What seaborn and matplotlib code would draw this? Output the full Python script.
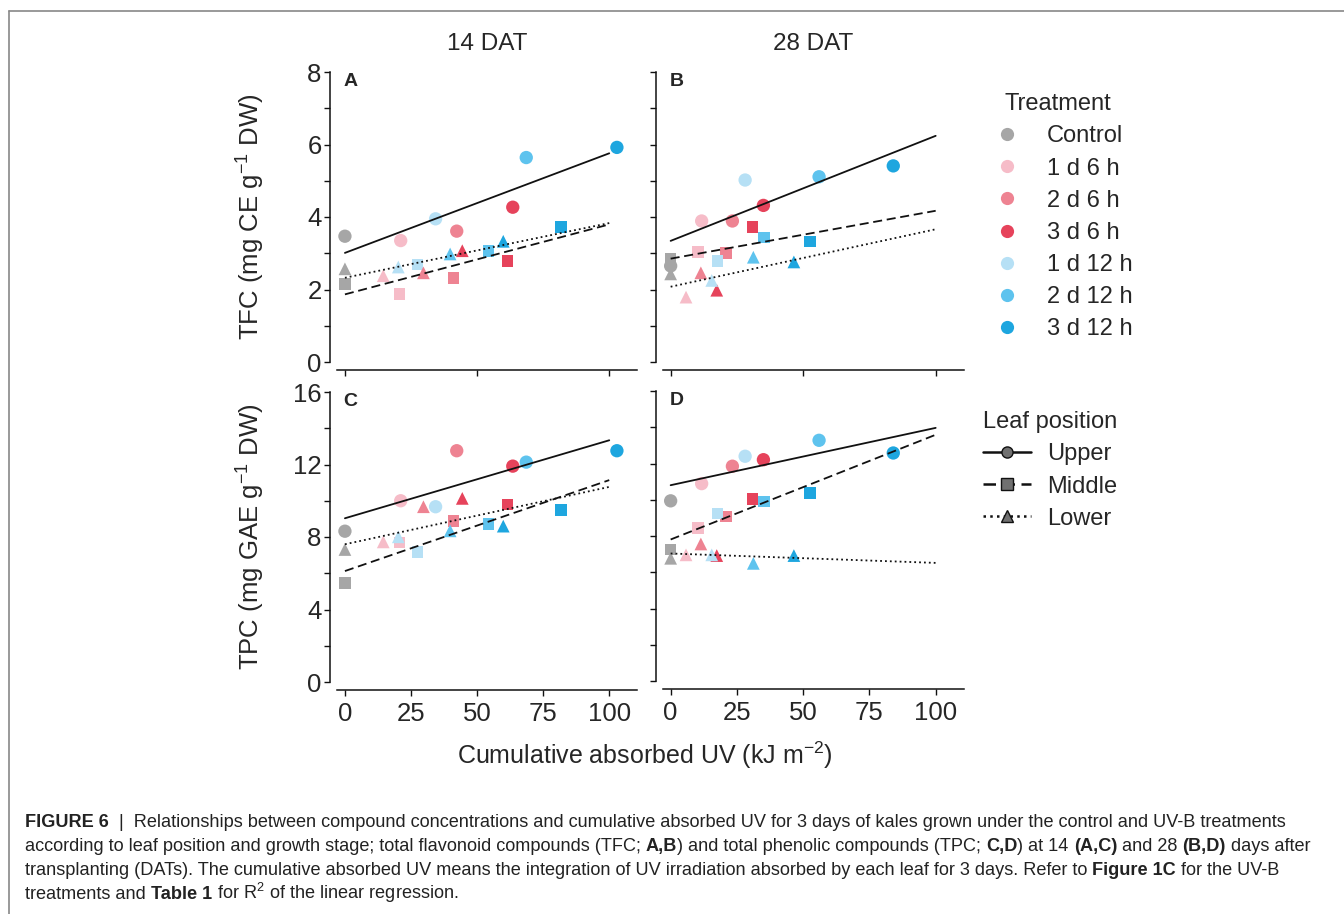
import numpy as np
import matplotlib
matplotlib.use('Agg')
import matplotlib.pyplot as plt
from matplotlib.lines import Line2D
from matplotlib.ticker import MultipleLocator
import seaborn as sns

# treatments in legend order
treatments = ['Control', '1 d 6 h', '2 d 6 h', '3 d 6 h', '1 d 12 h', '2 d 12 h', '3 d 12 h']
colors = ['#a6a6a6', '#f6bcc8', '#ee8392', '#e6435b', '#b6e0f5', '#5ec3ee', '#1ea6df']
positions = ['Upper', 'Middle', 'Lower']

# cumulative absorbed UV (kJ m-2), 14 DAT
uv14_upper = [0, 21.1, 42.3, 63.5, 34.3, 68.6, 102.9]
uv14_middle = [0, 20.6, 41.0, 61.5, 27.4, 54.4, 81.7]
uv14_lower = [0, 14.5, 29.7, 44.4, 20.2, 39.8, 59.9]
# 28 DAT
uv28_upper = [0, 11.7, 23.3, 35.0, 28.1, 56.0, 84.0]
uv28_middle = [0, 10.4, 20.8, 30.9, 17.6, 35.2, 52.6]
uv28_lower = [0, 5.8, 11.4, 17.4, 15.5, 31.2, 46.5]

# TFC (mg CE g-1 DW)
tfc14_upper = [3.47, 3.35, 3.61, 4.27, 3.95, 5.64, 5.92]
tfc14_middle = [2.15, 1.87, 2.32, 2.78, 2.69, 3.06, 3.72]
tfc14_lower = [2.57, 2.38, 2.46, 3.07, 2.62, 2.98, 3.33]
tfc28_upper = [2.65, 3.89, 3.89, 4.32, 5.02, 5.11, 5.41]
tfc28_middle = [2.85, 3.04, 3.01, 3.73, 2.78, 3.43, 3.33]
tfc28_lower = [2.43, 1.79, 2.46, 1.98, 2.25, 2.89, 2.76]

# TPC (mg GAE g-1 DW)
tpc14_upper = [8.32, 10.0, 12.76, 11.91, 9.67, 12.13, 12.76]
tpc14_middle = [5.47, 7.70, 8.89, 9.80, 7.18, 8.71, 9.48]
tpc14_lower = [7.31, 7.73, 9.67, 10.13, 8.01, 8.34, 8.60]
tpc28_upper = [9.94, 10.89, 11.85, 12.21, 12.40, 13.28, 12.58]
tpc28_middle = [7.27, 8.43, 9.08, 10.04, 9.23, 9.91, 10.37]
tpc28_lower = [6.77, 6.96, 7.56, 6.92, 6.96, 6.49, 6.92]

sns.set_style('ticks')
plt.rcParams['font.family'] = ['Liberation Sans', 'DejaVu Sans']
plt.rcParams['mathtext.fontset'] = 'custom'
plt.rcParams['mathtext.rm'] = 'Liberation Sans'
plt.rcParams['mathtext.it'] = 'Liberation Sans:italic'
plt.rcParams['mathtext.bf'] = 'Liberation Sans:bold'

W, H = 1344, 914
fig = plt.figure(figsize=(W / 100, H / 100), dpi=100)


def px_axes(left, top, right, bottom):
    return fig.add_axes([left / W, 1 - bottom / H, (right - left) / W, (bottom - top) / H])


axA = px_axes(337, 72, 637, 362)
axB = px_axes(662.7, 72, 963.5, 362)
axC = px_axes(337, 392, 637, 682)
axD = px_axes(662.7, 391, 963.5, 681)

marker_of = {'Upper': 'o', 'Middle': 's', 'Lower': '^'}
size_of = {'Upper': 92, 'Middle': 68, 'Lower': 84}
line_of = {'Upper': '-', 'Middle': (0, (5, 2.6)), 'Lower': (0, (1, 1.7))}

panels = [
    (axA, 'A', [uv14_upper, uv14_middle, uv14_lower], [tfc14_upper, tfc14_middle, tfc14_lower], 8),
    (axB, 'B', [uv28_upper, uv28_middle, uv28_lower], [tfc28_upper, tfc28_middle, tfc28_lower], 8),
    (axC, 'C', [uv14_upper, uv14_middle, uv14_lower], [tpc14_upper, tpc14_middle, tpc14_lower], 16),
    (axD, 'D', [uv28_upper, uv28_middle, uv28_lower], [tpc28_upper, tpc28_middle, tpc28_lower], 16),
]

for ax, letter, xs_list, ys_list, ymax in panels:
    for pos, xs, ys in zip(positions, xs_list, ys_list):
        sns.scatterplot(x=xs, y=ys, hue=treatments, hue_order=treatments, palette=colors,
                        marker=marker_of[pos], s=size_of[pos], linewidth=0, legend=False,
                        ax=ax, clip_on=False, zorder=2)
        # linear regression over 0-100
        slope, icpt = np.polyfit(xs, ys, 1)
        xfit = np.array([0, 100])
        ax.plot(xfit, icpt + slope * xfit, color='#111111', lw=1.3,
                linestyle=line_of[pos], zorder=3)
    ax.set_xlim(-3, 110.5)
    ax.set_ylim(0, ymax)
    ax.yaxis.set_major_locator(MultipleLocator(ymax / 4))
    ax.yaxis.set_minor_locator(MultipleLocator(ymax / 8))
    ax.text(0.022, 0.995, letter, transform=ax.transAxes, ha='left', va='top',
            fontsize=14, fontweight='bold')
    sns.despine(ax=ax, offset={'left': 5, 'bottom': 5.8})
    for sp in ['left', 'bottom']:
        ax.spines[sp].set_linewidth(1.1)
        ax.spines[sp].set_color('#111111')
    ax.tick_params(which='both', direction='out', length=4.5, width=1.0,
                   color='#111111', labelsize=18.5, pad=1.5)

for ax in [axA, axB]:
    ax.xaxis.set_major_locator(MultipleLocator(50))
    ax.tick_params(axis='x', labelbottom=False)
for ax in [axC, axD]:
    ax.xaxis.set_major_locator(MultipleLocator(25))
    ax.tick_params(axis='x', pad=4)
for ax in [axB, axD]:
    ax.tick_params(axis='y', which='both', labelleft=False)

axA.set_ylabel('TFC (mg CE g$^{-1}$ DW)', fontsize=18.5, labelpad=29)
axC.set_ylabel('TPC (mg GAE g$^{-1}$ DW)', fontsize=18.5, labelpad=19)
axA.set_title('14 DAT', fontsize=17.5, pad=16)
axB.set_title('28 DAT', fontsize=17.5, pad=16)
fig.text(645 / W, 1 - 755 / H, 'Cumulative absorbed UV (kJ m$^{-2}$)', fontsize=18,
         ha='center', va='center')

# legends
trt_handles = [Line2D([], [], marker='o', linestyle='none', markersize=9.5,
                      markerfacecolor=c, markeredgewidth=0) for c in colors]
leg1 = fig.legend(trt_handles, treatments, title='Treatment', loc='upper left',
                  bbox_to_anchor=(962 / W, 1 - 72 / H), frameon=False, fontsize=17,
                  title_fontsize=17, handlelength=2.0, handletextpad=0.7,
                  labelspacing=0.43)
pos_handles = [Line2D([], [], color='#111111', lw=1.8, linestyle=line_of[p],
                      marker=marker_of[p], markersize=8, markerfacecolor='#707070',
                      markeredgecolor='#111111', markeredgewidth=1.0) for p in positions]
leg2 = fig.legend(pos_handles, positions, title='Leaf position', loc='upper left',
                  bbox_to_anchor=(962 / W, 1 - 390 / H), frameon=False, fontsize=17,
                  title_fontsize=17, handlelength=2.0, handletextpad=0.7,
                  labelspacing=0.43)

# frame lines of the figure box
fig.add_artist(Line2D([9 / W, 1], [1 - 11 / H, 1 - 11 / H], color='#888888', lw=1.2))
fig.add_artist(Line2D([9 / W, 9 / W], [0, 1 - 11 / H], color='#888888', lw=1.2))

# caption with bold runs
caption = [
    [('FIGURE 6', True), ('  |  Relationships between compound concentrations and cumulative absorbed UV for 3 days of kales grown under the control and UV-B treatments', False)],
    [('according to leaf position and growth stage; total flavonoid compounds (TFC; ', False), ('A,B', True),
     (') and total phenolic compounds (TPC; ', False), ('C,D', True), (') at 14 ', False), ('(A,C)', True),
     (' and 28 ', False), ('(B,D)', True), (' days after', False)],
    [('transplanting (DATs). The cumulative absorbed UV means the integration of UV irradiation absorbed by each leaf for 3 days. Refer to ', False),
     ('Figure 1C', True), (' for the UV-B', False)],
    [('treatments and ', False), ('Table 1', True), (' for R$^{2}$ of the linear regression.', False)],
]
renderer = fig.canvas.get_renderer()
cap_y = [827, 851, 875, 899]
for yline, runs in zip(cap_y, caption):
    xpos = 25
    for txt, bold in runs:
        t = fig.text(xpos / W, 1 - yline / H, txt, fontsize=13.05, ha='left', va='baseline',
                     fontweight='bold' if bold else 'normal', color='#222222')
        bb = t.get_window_extent(renderer=renderer)
        xpos += bb.width

fig.savefig('out.png', dpi=100)
